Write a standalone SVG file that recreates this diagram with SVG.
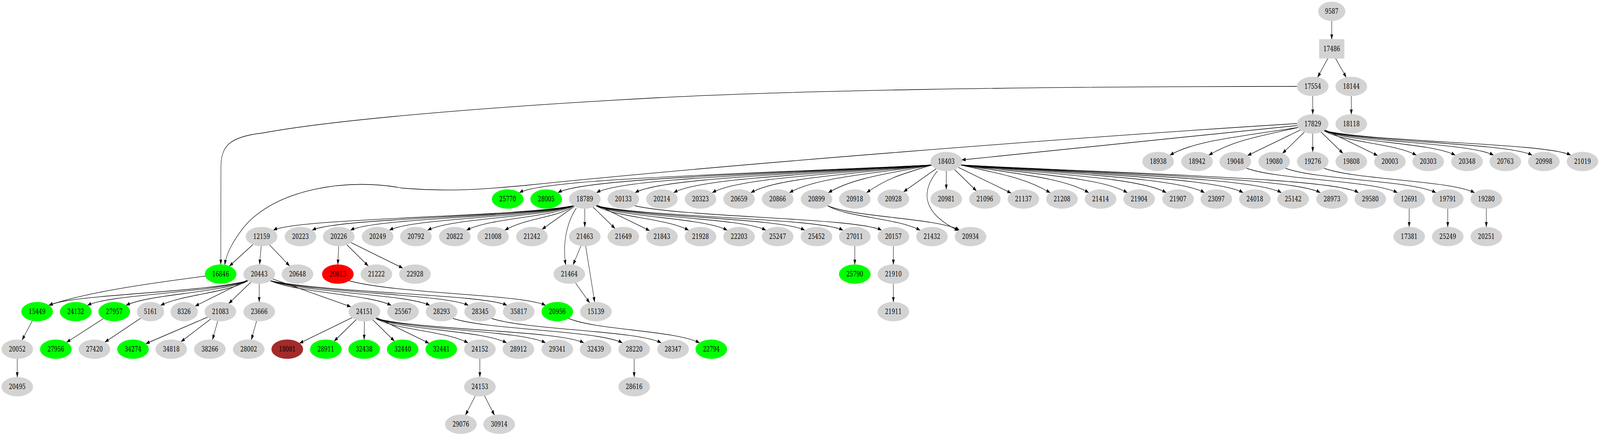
<svg xmlns="http://www.w3.org/2000/svg" width="5475" height="1115" viewBox="0 0 5475 1115" preserveAspectRatio="none">
<defs>
<style>
svg{width:100vw;height:100vh;display:block}
.g{fill:#d3d3d3;stroke:#d3d3d3;stroke-width:1.33}
.v{fill:#00ff00;stroke:#00ff00;stroke-width:1.33}
.r{fill:#ff0000;stroke:#ff0000;stroke-width:1.33}
.b{fill:#a52a2a;stroke:#a52a2a;stroke-width:1.33}
text{font-family:"DejaVu Serif","Liberation Serif",serif;font-size:18px;text-anchor:middle;fill:#000}
#edges path{fill:none;stroke:#000;stroke-width:1.33;marker-end:url(#a)}
</style>
<marker id="a" viewBox="0 0 14 10" refX="13.3" refY="5" markerWidth="14" markerHeight="10" markerUnits="userSpaceOnUse" orient="auto"><path d="M0,0.3 L13.3,5 L0,9.7 z" fill="#000"/></marker>
</defs>
<rect width="5475" height="1115" fill="#fff"/>
<g id="edges">
<path d="M4557,53 L4557,101"/>
<path d="M4544,149 L4508.5,198.2"/>
<path d="M4570,149 L4606.9,198.2"/>
<path d="M4492,245 L4492,293"/>
<path d="M4624,245 L4624,293"/>
<path d="M4438.5,221 C3500,221 2700,232 2250,250 C1700,272 1150,305 900,340 C780,350 756,375 756,430 L755.5,677"/>
<path d="M4439.3,321 L3290.7,409"/>
<path d="M4438.5,316 C3700,350 2500,420 1800,474 C1680,482 1560,492 1375,481 C1200,455 940,480 830,585 C800,615 775,645 769,678"/>
<path d="M4442.5,326 C4222.8,351 4083,361.5 4003,397"/>
<path d="M4442.5,326 C4289.3,351 4216,361.5 4136,397"/>
<path d="M4450.4,332.1 L4268.6,397.9"/>
<path d="M4463.9,337.4 L4388.1,392.6"/>
<path d="M4492,341 L4492,389"/>
<path d="M4520.1,337.4 L4595.9,392.6"/>
<path d="M4533.6,332.1 L4714.4,397.9"/>
<path d="M4530,334 C4593.4,364 4767,365 4847,397"/>
<path d="M4530,334 C4620,364 4900,365 4980,397"/>
<path d="M4530,334 C4646.2,364 5031,365 5111,397"/>
<path d="M4530,334 C4672.6,364 5163,365 5243,397"/>
<path d="M4530,334 C4699,364 5295,365 5375,397"/>
<path d="M3188.5,422 C2482.8,447 1857,457.5 1777,493"/>
<path d="M3188.5,422 C2548.8,447 1989,457.5 1909,493"/>
<path d="M3188.5,422 C2614.8,447 2121,457.5 2041,493"/>
<path d="M3188.5,422 C2680.8,447 2253,457.5 2173,493"/>
<path d="M3188.5,422 C2746.8,447 2385,457.5 2305,493"/>
<path d="M3188.5,422 C2812.8,447 2517,457.5 2437,493"/>
<path d="M3188.5,422 C2878.8,447 2649,457.5 2569,493"/>
<path d="M3188.5,422 C2944.8,447 2781,457.5 2701,493"/>
<path d="M3188.5,422 C3011.3,447 2914,457.5 2834,493"/>
<path d="M3188.5,422 C3076.8,447 3032,457.5 2965,493"/>
<path d="M3203.5,431.3 L3091.5,490.7"/>
<path d="M3238,437 L3238,485"/>
<path d="M3266.1,433.4 L3341.9,488.6"/>
<path d="M3279.6,428.1 L3460.4,493.9"/>
<path d="M3287.5,422 C3440.8,447 3514,457.5 3594,493"/>
<path d="M3287.5,422 C3506.8,447 3646,457.5 3726,493"/>
<path d="M3287.5,422 C3572.8,447 3778,457.5 3858,493"/>
<path d="M3287.5,422 C3639.3,447 3911,457.5 3991,493"/>
<path d="M3287.5,422 C3704.8,447 4042,457.5 4122,493"/>
<path d="M3287.5,422 C3770.8,447 4174,457.5 4254,493"/>
<path d="M3287.5,422 C3836.3,447 4305,457.5 4385,493"/>
<path d="M3287.5,422 C3902.8,447 4438,457.5 4518,493"/>
<path d="M3287.5,422 C3968.3,447 4569,457.5 4649,493"/>
<path d="M3208,437 C3150,490 3155,545 3280,590"/>
<path d="M4265,430 C4368.4,460 4702,461 4782,493"/>
<path d="M4398,430 C4501,460 4834,461 4914,493"/>
<path d="M4530,430 C4633,460 4966,461 5046,493"/>
<path d="M4822,533 L4822,581"/>
<path d="M4954,533 L4954,581"/>
<path d="M5086,533 L5086,581"/>
<path d="M1963,526 C1757.4,556 1015,557 935,589"/>
<path d="M1963,526 C1784,556 1148,557 1068,589"/>
<path d="M1963,526 C1810.2,556 1279,557 1199,589"/>
<path d="M1963,526 C1836.8,556 1412,557 1332,589"/>
<path d="M1963,526 C1863,556 1543,557 1463,589"/>
<path d="M1963,526 C1889.6,556 1676,557 1596,589"/>
<path d="M1963,526 C1915.8,556 1797.8,557 1727,589"/>
<path d="M1966.5,527.3 L1854.5,586.7"/>
<path d="M2001,533 L2001,581"/>
<path d="M1972,532 C1935,575 1925,630 1936,678"/>
<path d="M2029.1,529.4 L2104.9,584.6"/>
<path d="M2042.6,524.1 L2223.4,589.9"/>
<path d="M2039,526 C2102.6,556 2277,557 2357,589"/>
<path d="M2039,526 C2129,556 2409,557 2489,589"/>
<path d="M2039,526 C2155.4,556 2541,557 2621,589"/>
<path d="M2039,526 C2182,556 2674,557 2754,589"/>
<path d="M2039,526 C2208.2,556 2805,557 2885,589"/>
<path d="M2171,526 C2340,556 2937,557 3017,589"/>
<path d="M2832,526 C2895.4,556 3069,557 3149,589"/>
<path d="M2832,526 C2921.8,556 3201,557 3283,588"/>
<path d="M2925,629 L2925,677"/>
<path d="M3057,629 L3057,677"/>
<path d="M3057,725 L3057,773"/>
<path d="M865.7,625.1 L784.3,680.9"/>
<path d="M894,629 L888,677"/>
<path d="M921.7,625.8 L991.3,680.2"/>
<path d="M1159,629 L1156,677"/>
<path d="M1186.6,625.6 L1260.4,680.4"/>
<path d="M1200.4,620.2 L1378.6,685.8"/>
<path d="M1988.1,628.3 L1960.9,677.7"/>
<path d="M2004,629 L2035,773"/>
<path d="M1968.9,723.1 L2018.1,774.9"/>
<path d="M702.5,706 C560,720 300,745 167,781"/>
<path d="M849,718 C678.5,750 247,752 167,781"/>
<path d="M849,718 C711.5,750 379,752 299,781"/>
<path d="M849,718 C744.5,750 511,752 431,781"/>
<path d="M849,718 C774,750 629.3,752 549.3,781"/>
<path d="M845.9,716.4 L667.4,783"/>
<path d="M858.8,721.4 L782.2,776.6"/>
<path d="M887,725 L887,773"/>
<path d="M933,713.3 L1201,784.7"/>
<path d="M925,718 C1028.5,750 1259,752 1339,781"/>
<path d="M925,718 C1061.5,750 1391,752 1471,781"/>
<path d="M925,718 C1094.5,750 1523,752 1603,781"/>
<path d="M925,718 C1127.5,750 1655,752 1735,781"/>
<path d="M1194,718 C1362,752 1787,752 1867,781"/>
<path d="M110.8,819.9 L75.2,870.1"/>
<path d="M59,917 L59,965"/>
<path d="M354.5,814.5 L227.5,875.5"/>
<path d="M481.8,813.6 L358.7,875.1"/>
<path d="M710.5,811 L498.5,879"/>
<path d="M721,815.9 L619,874.1"/>
<path d="M745.1,820.7 L726.9,869.3"/>
<path d="M878.1,820.7 L859.9,869.3"/>
<path d="M1205.4,812.1 L1024.6,877.9"/>
<path d="M1218.9,817.4 L1143.1,872.6"/>
<path d="M1247,821 L1246,869"/>
<path d="M1275,817.4 L1350,872.6"/>
<path d="M1288.5,812.1 L1468.5,877.9"/>
<path d="M1285,814 C1348.4,844 1522,845 1602,877"/>
<path d="M1285,814 C1374.8,844 1654,845 1734,877"/>
<path d="M1285,814 C1401.4,844 1787,845 1867,877"/>
<path d="M1285,814 C1427.6,844 1918,845 1998,877"/>
<path d="M1549,814 C1665.2,844 2050,845 2130,877"/>
<path d="M1681,814 C1797.4,844 2183,845 2263,877"/>
<path d="M1945,814 C2034.8,844 2314,845 2394,877"/>
<path d="M1642,917 L1642,965"/>
<path d="M1626.5,1012 L1592.5,1062"/>
<path d="M1657.8,1012 L1692.2,1062"/>
<path d="M2170,917 L2170,965"/>
</g>
<g id="node-9587"><ellipse class="g" cx="4557" cy="29" rx="46" ry="24"/><text x="4557" y="35">9587</text></g>
<g id="node-17486"><rect class="g" x="4514.5" y="101" width="85" height="48"/><text x="4557" y="131">17486</text></g>
<g id="node-17554"><ellipse class="g" cx="4492" cy="221" rx="53.5" ry="24"/><text x="4492" y="227">17554</text></g>
<g id="node-18144"><ellipse class="g" cx="4624" cy="221" rx="53.5" ry="24"/><text x="4624" y="227">18144</text></g>
<g id="node-17829"><ellipse class="g" cx="4492" cy="317" rx="53.5" ry="24"/><text x="4492" y="323">17829</text></g>
<g id="node-18118"><ellipse class="g" cx="4624" cy="317" rx="53.5" ry="24"/><text x="4624" y="323">18118</text></g>
<g id="node-18403"><ellipse class="g" cx="3238" cy="413" rx="53.5" ry="24"/><text x="3238" y="419">18403</text></g>
<g id="node-18938"><ellipse class="g" cx="3963" cy="413" rx="53.5" ry="24"/><text x="3963" y="419">18938</text></g>
<g id="node-18942"><ellipse class="g" cx="4096" cy="413" rx="53.5" ry="24"/><text x="4096" y="419">18942</text></g>
<g id="node-19048"><ellipse class="g" cx="4227" cy="413" rx="53.5" ry="24"/><text x="4227" y="419">19048</text></g>
<g id="node-19080"><ellipse class="g" cx="4360" cy="413" rx="53.5" ry="24"/><text x="4360" y="419">19080</text></g>
<g id="node-19276"><ellipse class="g" cx="4492" cy="413" rx="53.5" ry="24"/><text x="4492" y="419">19276</text></g>
<g id="node-19808"><ellipse class="g" cx="4624" cy="413" rx="53.5" ry="24"/><text x="4624" y="419">19808</text></g>
<g id="node-20003"><ellipse class="g" cx="4756" cy="413" rx="53.5" ry="24"/><text x="4756" y="419">20003</text></g>
<g id="node-20303"><ellipse class="g" cx="4887" cy="413" rx="53.5" ry="24"/><text x="4887" y="419">20303</text></g>
<g id="node-20348"><ellipse class="g" cx="5020" cy="413" rx="53.5" ry="24"/><text x="5020" y="419">20348</text></g>
<g id="node-20763"><ellipse class="g" cx="5151" cy="413" rx="53.5" ry="24"/><text x="5151" y="419">20763</text></g>
<g id="node-20998"><ellipse class="g" cx="5283" cy="413" rx="53.5" ry="24"/><text x="5283" y="419">20998</text></g>
<g id="node-21019"><ellipse class="g" cx="5415" cy="413" rx="53.5" ry="24"/><text x="5415" y="419">21019</text></g>
<g id="node-25770"><ellipse class="v" cx="1737" cy="509" rx="53.5" ry="24"/><text x="1737" y="515">25770</text></g>
<g id="node-28005"><ellipse class="v" cx="1869" cy="509" rx="53.5" ry="24"/><text x="1869" y="515">28005</text></g>
<g id="node-18789"><ellipse class="g" cx="2001" cy="509" rx="53.5" ry="24"/><text x="2001" y="515">18789</text></g>
<g id="node-20133"><ellipse class="g" cx="2133" cy="509" rx="53.5" ry="24"/><text x="2133" y="515">20133</text></g>
<g id="node-20214"><ellipse class="g" cx="2265" cy="509" rx="53.5" ry="24"/><text x="2265" y="515">20214</text></g>
<g id="node-20323"><ellipse class="g" cx="2397" cy="509" rx="53.5" ry="24"/><text x="2397" y="515">20323</text></g>
<g id="node-20659"><ellipse class="g" cx="2529" cy="509" rx="53.5" ry="24"/><text x="2529" y="515">20659</text></g>
<g id="node-20866"><ellipse class="g" cx="2661" cy="509" rx="53.5" ry="24"/><text x="2661" y="515">20866</text></g>
<g id="node-20899"><ellipse class="g" cx="2794" cy="509" rx="53.5" ry="24"/><text x="2794" y="515">20899</text></g>
<g id="node-20918"><ellipse class="g" cx="2925" cy="509" rx="53.5" ry="24"/><text x="2925" y="515">20918</text></g>
<g id="node-20928"><ellipse class="g" cx="3057" cy="509" rx="53.5" ry="24"/><text x="3057" y="515">20928</text></g>
<g id="node-20981"><ellipse class="g" cx="3238" cy="509" rx="53.5" ry="24"/><text x="3238" y="515">20981</text></g>
<g id="node-21096"><ellipse class="g" cx="3370" cy="509" rx="53.5" ry="24"/><text x="3370" y="515">21096</text></g>
<g id="node-21137"><ellipse class="g" cx="3502" cy="509" rx="53.5" ry="24"/><text x="3502" y="515">21137</text></g>
<g id="node-21208"><ellipse class="g" cx="3634" cy="509" rx="53.5" ry="24"/><text x="3634" y="515">21208</text></g>
<g id="node-21414"><ellipse class="g" cx="3766" cy="509" rx="53.5" ry="24"/><text x="3766" y="515">21414</text></g>
<g id="node-21904"><ellipse class="g" cx="3898" cy="509" rx="53.5" ry="24"/><text x="3898" y="515">21904</text></g>
<g id="node-21907"><ellipse class="g" cx="4031" cy="509" rx="53.5" ry="24"/><text x="4031" y="515">21907</text></g>
<g id="node-23097"><ellipse class="g" cx="4162" cy="509" rx="53.5" ry="24"/><text x="4162" y="515">23097</text></g>
<g id="node-24018"><ellipse class="g" cx="4294" cy="509" rx="53.5" ry="24"/><text x="4294" y="515">24018</text></g>
<g id="node-25142"><ellipse class="g" cx="4425" cy="509" rx="53.5" ry="24"/><text x="4425" y="515">25142</text></g>
<g id="node-28973"><ellipse class="g" cx="4558" cy="509" rx="53.5" ry="24"/><text x="4558" y="515">28973</text></g>
<g id="node-29580"><ellipse class="g" cx="4689" cy="509" rx="53.5" ry="24"/><text x="4689" y="515">29580</text></g>
<g id="node-12691"><ellipse class="g" cx="4822" cy="509" rx="53.5" ry="24"/><text x="4822" y="515">12691</text></g>
<g id="node-19791"><ellipse class="g" cx="4954" cy="509" rx="53.5" ry="24"/><text x="4954" y="515">19791</text></g>
<g id="node-19280"><ellipse class="g" cx="5086" cy="509" rx="53.5" ry="24"/><text x="5086" y="515">19280</text></g>
<g id="node-12159"><ellipse class="g" cx="895" cy="605" rx="53.5" ry="24"/><text x="895" y="611">12159</text></g>
<g id="node-20223"><ellipse class="g" cx="1028" cy="605" rx="53.5" ry="24"/><text x="1028" y="611">20223</text></g>
<g id="node-20226"><ellipse class="g" cx="1159" cy="605" rx="53.5" ry="24"/><text x="1159" y="611">20226</text></g>
<g id="node-20249"><ellipse class="g" cx="1292" cy="605" rx="53.5" ry="24"/><text x="1292" y="611">20249</text></g>
<g id="node-20792"><ellipse class="g" cx="1423" cy="605" rx="53.5" ry="24"/><text x="1423" y="611">20792</text></g>
<g id="node-20822"><ellipse class="g" cx="1556" cy="605" rx="53.5" ry="24"/><text x="1556" y="611">20822</text></g>
<g id="node-21008"><ellipse class="g" cx="1687" cy="605" rx="53.5" ry="24"/><text x="1687" y="611">21008</text></g>
<g id="node-21242"><ellipse class="g" cx="1820" cy="605" rx="53.5" ry="24"/><text x="1820" y="611">21242</text></g>
<g id="node-21463"><ellipse class="g" cx="2001" cy="605" rx="53.5" ry="24"/><text x="2001" y="611">21463</text></g>
<g id="node-21649"><ellipse class="g" cx="2133" cy="605" rx="53.5" ry="24"/><text x="2133" y="611">21649</text></g>
<g id="node-21843"><ellipse class="g" cx="2265" cy="605" rx="53.5" ry="24"/><text x="2265" y="611">21843</text></g>
<g id="node-21928"><ellipse class="g" cx="2397" cy="605" rx="53.5" ry="24"/><text x="2397" y="611">21928</text></g>
<g id="node-22203"><ellipse class="g" cx="2529" cy="605" rx="53.5" ry="24"/><text x="2529" y="611">22203</text></g>
<g id="node-25247"><ellipse class="g" cx="2661" cy="605" rx="53.5" ry="24"/><text x="2661" y="611">25247</text></g>
<g id="node-25452"><ellipse class="g" cx="2794" cy="605" rx="53.5" ry="24"/><text x="2794" y="611">25452</text></g>
<g id="node-27011"><ellipse class="g" cx="2925" cy="605" rx="53.5" ry="24"/><text x="2925" y="611">27011</text></g>
<g id="node-20157"><ellipse class="g" cx="3057" cy="605" rx="53.5" ry="24"/><text x="3057" y="611">20157</text></g>
<g id="node-21432"><ellipse class="g" cx="3189" cy="605" rx="53.5" ry="24"/><text x="3189" y="611">21432</text></g>
<g id="node-20934"><ellipse class="g" cx="3321" cy="605" rx="53.5" ry="24"/><text x="3321" y="611">20934</text></g>
<g id="node-17381"><ellipse class="g" cx="4822" cy="605" rx="53.5" ry="24"/><text x="4822" y="611">17381</text></g>
<g id="node-25249"><ellipse class="g" cx="4954" cy="605" rx="53.5" ry="24"/><text x="4954" y="611">25249</text></g>
<g id="node-20251"><ellipse class="g" cx="5086" cy="605" rx="53.5" ry="24"/><text x="5086" y="611">20251</text></g>
<g id="node-16846"><ellipse class="v" cx="755" cy="701" rx="53.5" ry="24"/><text x="755" y="707">16846</text></g>
<g id="node-20443"><ellipse class="g" cx="887" cy="701" rx="53.5" ry="24"/><text x="887" y="707">20443</text></g>
<g id="node-20648"><ellipse class="g" cx="1018" cy="701" rx="53.5" ry="24"/><text x="1018" y="707">20648</text></g>
<g id="node-20813"><ellipse class="r" cx="1156" cy="701" rx="53.5" ry="24"/><text x="1156" y="707">20813</text></g>
<g id="node-21222"><ellipse class="g" cx="1288" cy="701" rx="53.5" ry="24"/><text x="1288" y="707">21222</text></g>
<g id="node-22928"><ellipse class="g" cx="1420" cy="701" rx="53.5" ry="24"/><text x="1420" y="707">22928</text></g>
<g id="node-21464"><ellipse class="g" cx="1948" cy="701" rx="53.5" ry="24"/><text x="1948" y="707">21464</text></g>
<g id="node-25790"><ellipse class="v" cx="2925" cy="701" rx="53.5" ry="24"/><text x="2925" y="707">25790</text></g>
<g id="node-21910"><ellipse class="g" cx="3057" cy="701" rx="53.5" ry="24"/><text x="3057" y="707">21910</text></g>
<g id="node-15449"><ellipse class="v" cx="127" cy="797" rx="53.5" ry="24"/><text x="127" y="803">15449</text></g>
<g id="node-24132"><ellipse class="v" cx="259" cy="797" rx="53.5" ry="24"/><text x="259" y="803">24132</text></g>
<g id="node-27957"><ellipse class="v" cx="391" cy="797" rx="53.5" ry="24"/><text x="391" y="803">27957</text></g>
<g id="node-5161"><ellipse class="g" cx="515" cy="797" rx="46" ry="24"/><text x="515" y="803">5161</text></g>
<g id="node-8326"><ellipse class="g" cx="630" cy="797" rx="46" ry="24"/><text x="630" y="803">8326</text></g>
<g id="node-21083"><ellipse class="g" cx="754" cy="797" rx="53.5" ry="24"/><text x="754" y="803">21083</text></g>
<g id="node-23666"><ellipse class="g" cx="887" cy="797" rx="53.5" ry="24"/><text x="887" y="803">23666</text></g>
<g id="node-24151"><ellipse class="g" cx="1247" cy="797" rx="53.5" ry="24"/><text x="1247" y="803">24151</text></g>
<g id="node-25567"><ellipse class="g" cx="1379" cy="797" rx="53.5" ry="24"/><text x="1379" y="803">25567</text></g>
<g id="node-28293"><ellipse class="g" cx="1511" cy="797" rx="53.5" ry="24"/><text x="1511" y="803">28293</text></g>
<g id="node-28345"><ellipse class="g" cx="1643" cy="797" rx="53.5" ry="24"/><text x="1643" y="803">28345</text></g>
<g id="node-35817"><ellipse class="g" cx="1775" cy="797" rx="53.5" ry="24"/><text x="1775" y="803">35817</text></g>
<g id="node-20956"><ellipse class="v" cx="1907" cy="797" rx="53.5" ry="24"/><text x="1907" y="803">20956</text></g>
<g id="node-15139"><ellipse class="g" cx="2039" cy="797" rx="53.5" ry="24"/><text x="2039" y="803">15139</text></g>
<g id="node-21911"><ellipse class="g" cx="3057" cy="797" rx="53.5" ry="24"/><text x="3057" y="803">21911</text></g>
<g id="node-20052"><ellipse class="g" cx="59" cy="893" rx="53.5" ry="24"/><text x="59" y="899">20052</text></g>
<g id="node-27956"><ellipse class="v" cx="191" cy="893" rx="53.5" ry="24"/><text x="191" y="899">27956</text></g>
<g id="node-27420"><ellipse class="g" cx="323" cy="893" rx="53.5" ry="24"/><text x="323" y="899">27420</text></g>
<g id="node-34274"><ellipse class="v" cx="455" cy="893" rx="53.5" ry="24"/><text x="455" y="899">34274</text></g>
<g id="node-34818"><ellipse class="g" cx="586" cy="893" rx="53.5" ry="24"/><text x="586" y="899">34818</text></g>
<g id="node-38266"><ellipse class="g" cx="718" cy="893" rx="53.5" ry="24"/><text x="718" y="899">38266</text></g>
<g id="node-28002"><ellipse class="g" cx="851" cy="893" rx="53.5" ry="24"/><text x="851" y="899">28002</text></g>
<g id="node-18081"><ellipse class="b" cx="983" cy="893" rx="53.5" ry="24"/><text x="983" y="899">18081</text></g>
<g id="node-28911"><ellipse class="v" cx="1115" cy="893" rx="53.5" ry="24"/><text x="1115" y="899">28911</text></g>
<g id="node-32438"><ellipse class="v" cx="1246" cy="893" rx="53.5" ry="24"/><text x="1246" y="899">32438</text></g>
<g id="node-32440"><ellipse class="v" cx="1378" cy="893" rx="53.5" ry="24"/><text x="1378" y="899">32440</text></g>
<g id="node-32441"><ellipse class="v" cx="1510" cy="893" rx="53.5" ry="24"/><text x="1510" y="899">32441</text></g>
<g id="node-24152"><ellipse class="g" cx="1642" cy="893" rx="53.5" ry="24"/><text x="1642" y="899">24152</text></g>
<g id="node-28912"><ellipse class="g" cx="1774" cy="893" rx="53.5" ry="24"/><text x="1774" y="899">28912</text></g>
<g id="node-29341"><ellipse class="g" cx="1907" cy="893" rx="53.5" ry="24"/><text x="1907" y="899">29341</text></g>
<g id="node-32439"><ellipse class="g" cx="2038" cy="893" rx="53.5" ry="24"/><text x="2038" y="899">32439</text></g>
<g id="node-28220"><ellipse class="g" cx="2170" cy="893" rx="53.5" ry="24"/><text x="2170" y="899">28220</text></g>
<g id="node-28347"><ellipse class="g" cx="2303" cy="893" rx="53.5" ry="24"/><text x="2303" y="899">28347</text></g>
<g id="node-22794"><ellipse class="v" cx="2434" cy="893" rx="53.5" ry="24"/><text x="2434" y="899">22794</text></g>
<g id="node-20495"><ellipse class="g" cx="59" cy="989" rx="53.5" ry="24"/><text x="59" y="995">20495</text></g>
<g id="node-24153"><ellipse class="g" cx="1642" cy="989" rx="53.5" ry="24"/><text x="1642" y="995">24153</text></g>
<g id="node-28616"><ellipse class="g" cx="2170" cy="989" rx="53.5" ry="24"/><text x="2170" y="995">28616</text></g>
<g id="node-29076"><ellipse class="g" cx="1577" cy="1085" rx="53.5" ry="24"/><text x="1577" y="1091">29076</text></g>
<g id="node-30914"><ellipse class="g" cx="1708" cy="1085" rx="53.5" ry="24"/><text x="1708" y="1091">30914</text></g>
</svg>
